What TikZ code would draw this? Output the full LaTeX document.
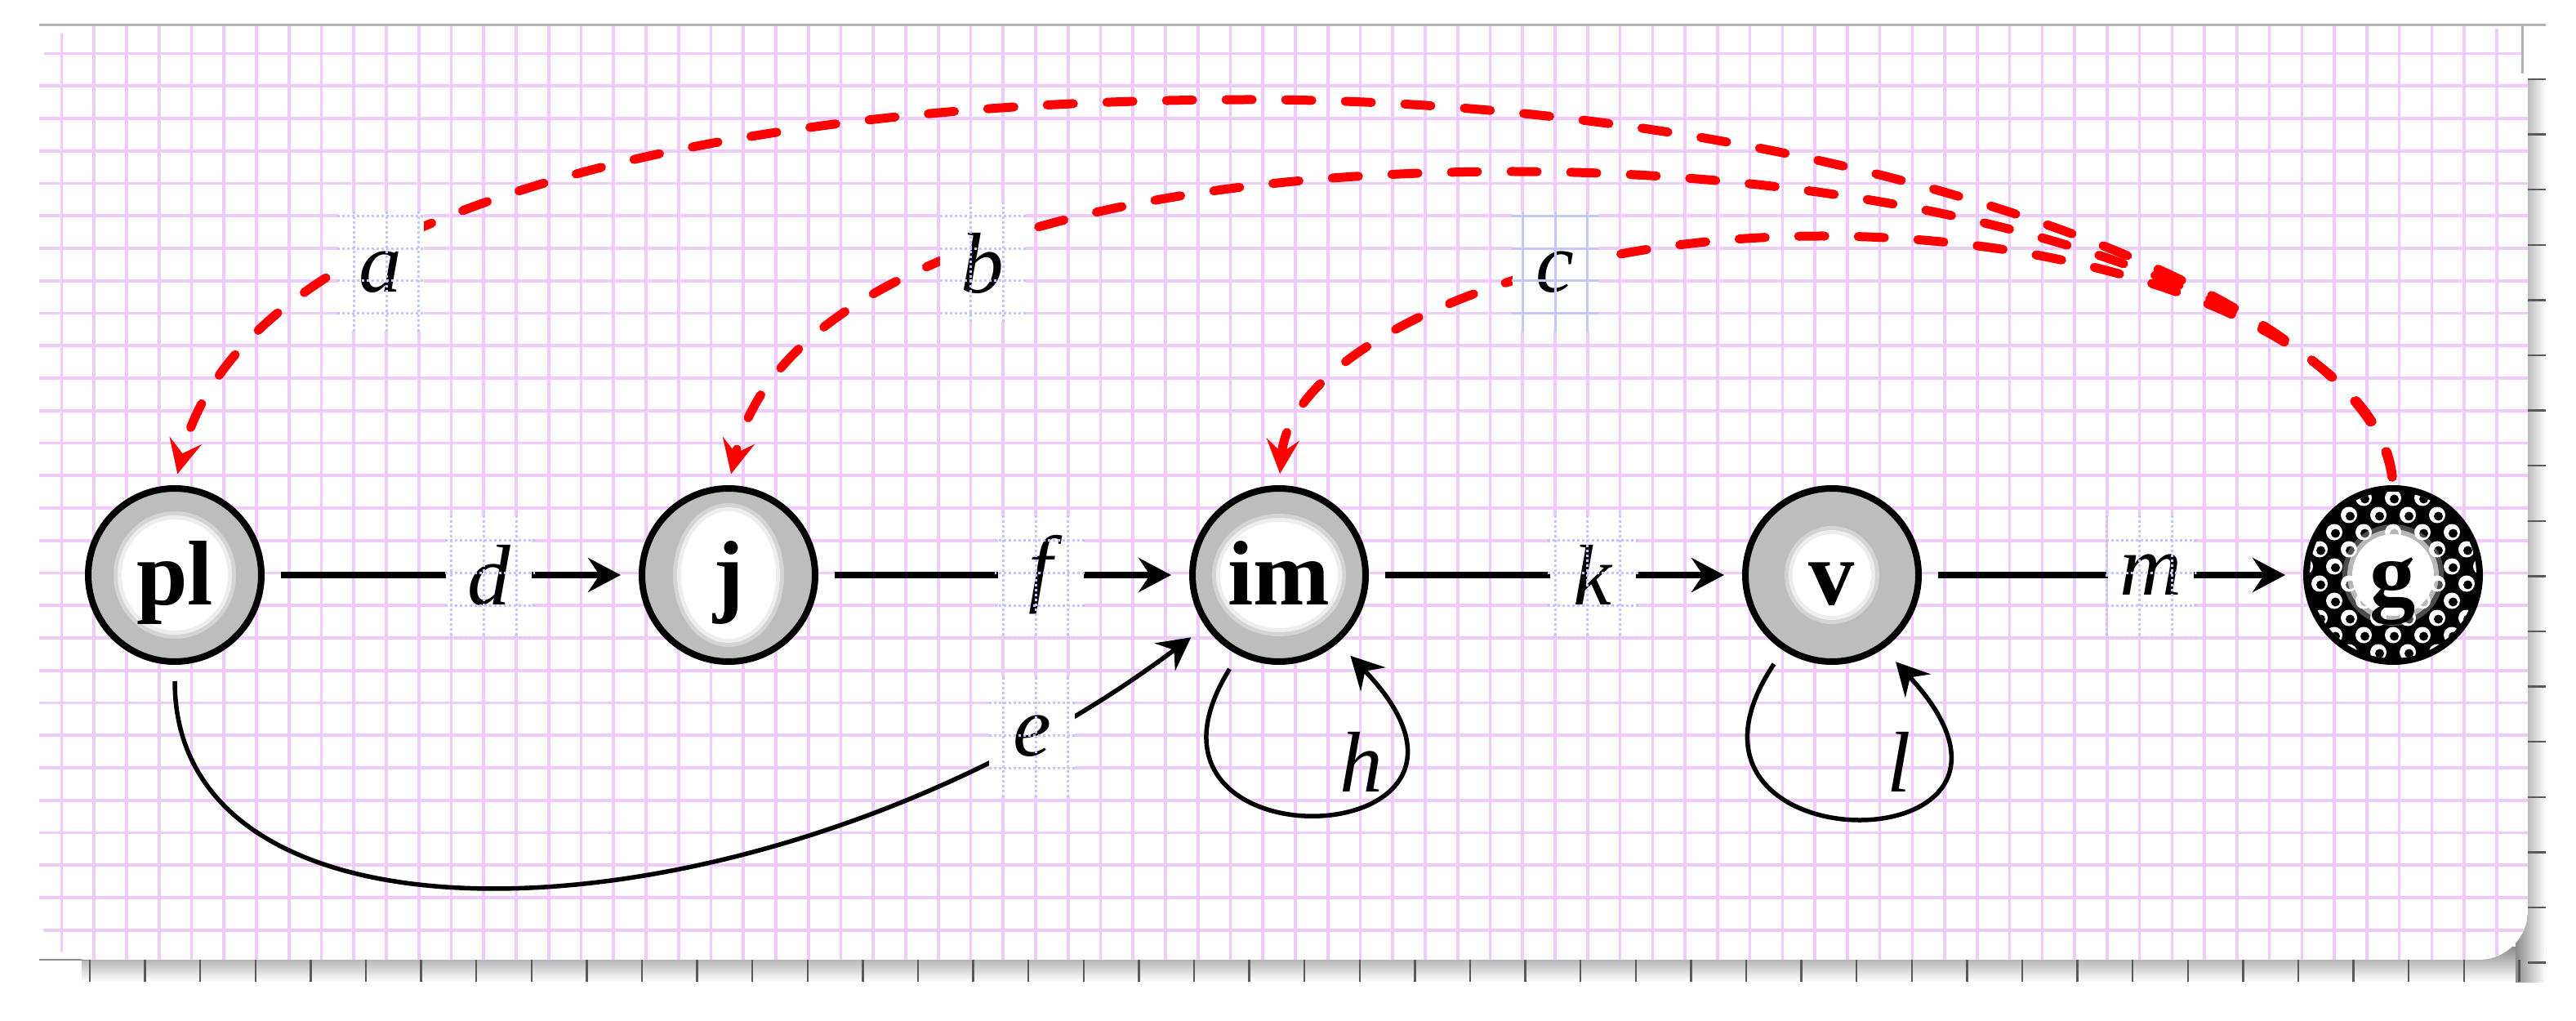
\documentclass[tikz,border=0pt]{standalone}
\usepackage{fontspec}
\setmainfont{Liberation Serif}
\usetikzlibrary{arrows.meta}
\definecolor{ringgray}{gray}{0.74}
\definecolor{gridpink}{RGB}{241,202,252}
\definecolor{gridblue}{RGB}{196,196,255}
\definecolor{rulergray}{gray}{0.55}
\newcommand{\statefont}{\fontsize{32}{36}\selectfont\bfseries}
\newcommand{\lblfont}{\fontsize{30}{34}\selectfont\itshape}
\newcommand{\papergrid}[1]{\begin{scope}[shift={(go)}]
  \foreach \k in {0,...,76} \draw[#1] ({\k*0.3975},0.4) -- ++(0,-11.6);
  \foreach \k in {0,...,27} \draw[#1] (-0.4,{-\k*0.3975}) -- ++(31,0);
  \end{scope}}
\tikzset{
  pinkline/.style={gridpink, line width=0.036cm},
  dotline/.style={gridblue, line width=0.03cm, dash pattern=on 0.025cm off 0.035cm},
  blueline/.style={gridblue, line width=0.03cm},
  state/.style={circle, draw, line width=0.08cm, fill=ringgray, minimum size=2.12cm, inner sep=0pt},
  statetext/.style={font=\statefont, text height=0.8cm, text depth=0.08cm, inner sep=0pt},
  lbl/.style={fill=white, minimum width=1.05cm, minimum height=1.45cm, inner sep=0pt, font=\lblfont},
  link/.style={line width=0.075cm, shorten <=0.2cm, shorten >=0.22cm, -{Stealth[length=0.4cm, width=0.42cm, inset=0.14cm]}},
  curvelink/.style={link, line width=0.055cm},
  redarc/.style={red, line width=0.11cm, line cap=round, dash pattern=on 0.32cm off 0.41cm,
    shorten <=0.1cm, shorten >=0.14cm, -{Stealth[length=0.42cm, width=0.4cm, inset=0.16cm]}}
}
\begin{document}
\begin{tikzpicture}
\useasboundingbox (0,0) rectangle (31.54,12.49);
\fill[white] (0,0) rectangle (31.54,12.49);
\coordinate (go) at (0.755,11.835);
\shade[top color=rulergray, bottom color=white] (1.0,0.47) rectangle (31.17,0.9);
\shade[left color=rulergray, right color=white] (30.8,0.47) rectangle (31.17,11.52);
\draw[rulergray, line width=0.02cm] (0.48,0.74) -- (1.1,0.74);
\begin{scope}
\clip[rounded corners=0.6cm] (0.48,0.74) rectangle (30.95,12.18);
\fill[white] (0.48,0.74) rectangle (30.95,12.18);
\papergrid{pinkline}
\end{scope}
\draw[gray!60, line width=0.03cm] (0.48,12.18) -- (31.17,12.18);
\draw[gray!60, line width=0.03cm] (30.88,12.18) -- (30.88,11.59);
\foreach \k in {0,...,44} \draw[gray!70!black, line width=0.025cm] ({1.10+0.676*\k},0.74) -- ++(0,-0.27);
\foreach \k in {0,...,16} \draw[gray!70!black, line width=0.025cm] (30.95,{11.52-0.676*\k}) -- ++(0.22,0);

\node[state] (pl) at (2.14,5.45) {};
\node[state] (j) at (8.92,5.45) {};
\node[state] (im) at (15.66,5.45) {};
\node[state] (v) at (22.43,5.45) {};
\node[state, fill=black] (g) at (29.30,5.45) {};
\foreach \n/\rx/\ry in {pl/0.75/0.78, j/0.68/0.88, im/0.82/0.75, v/0.58/0.60} {
  \fill[white, opacity=0.35] (\n) ellipse [x radius=\rx, y radius=\ry];
  \fill[white, opacity=0.6] (\n) ellipse [x radius={\rx-0.05}, y radius={\ry-0.05}];
  \fill[white] (\n) ellipse [x radius={\rx-0.1}, y radius={\ry-0.1}];}
\begin{scope}[shift={(g.center)}]
\clip (0,0) circle (1.02);
\foreach \i in {-4,...,4} \foreach \j in {0,...,11} {
  \fill[white] ({\i*0.36+mod(\j,2)*0.18},{(\j-5.5)*0.21}) circle (0.1);
  \fill[black] ({\i*0.36+mod(\j,2)*0.18+0.015},{(\j-5.5)*0.21-0.015}) circle (0.055);}
\foreach \r/\o in {0.62/0.3,0.56/0.6,0.5/1} \fill[white, opacity=\o] (0,0) circle (\r);
\end{scope}
\node[statetext] (plt) at (pl) {pl};
\node[statetext] (jt) at (j) {j};
\node[statetext] (imt) at (im) {im};
\node[statetext] (vt) at (v) {v};
\node[statetext] (gt) at (g) {g};

\coordinate (pka) at (15.3,11.27);
\coordinate (pkb) at (18.5,10.39);
\coordinate (pkc) at (22.3,9.6);
\draw[redarc] (g.north) .. controls +(-0.3,2.34) and +(7.2,0) .. (pka) .. controls +(-7.26,0) and +(0.76,3.14) .. (pl.north);
\draw[redarc] (g.north) .. controls +(-0.25,2.04) and +(5.96,0) .. (pkb) .. controls +(-5.29,0) and +(0.58,2.54) .. (j.north);
\draw[redarc] (g.north) .. controls +(-0.15,1.64) and +(3.86,0) .. (pkc) .. controls +(-3.67,0) and +(0.14,1.64) .. (im.north);

\draw[link] (pl) -- node[lbl, pos=0.6] (ld) {d} (j);
\draw[link] (j) -- node[lbl, pos=0.6] (lf) {f} (im);
\draw[link] (im) -- node[lbl, pos=0.6] (lk) {k} (v);
\draw[link] (v) -- node[lbl, pos=0.6] (lm) {m} (g);
\draw[curvelink] (pl.south) .. controls +(0,-3.85) and +(-5.2,-3.9) .. node[lbl, pos=0.87] (le) {e} (im.215);
\draw[curvelink] (im.243) .. controls +(-1.66,-2.67) and +(2.52,-2.62) .. (im.311);
\draw[curvelink] (v.237) .. controls +(-1.8,-2.7) and +(2.5,-2.7) .. (v.305);

\node[font=\lblfont] (lh) at (16.67,3.16) {h};
\node[font=\lblfont] (ll) at (23.25,3.16) {l};
\node[lbl] (la) at (4.66,9.16) {a};
\node[lbl] (lb) at (12.03,9.27) {b};
\node[lbl] (lc) at (19.04,9.16) {c};
\foreach \n in {la,lb,ld,lf,lk,lm,le} {
  \begin{scope}
  \clip (\n.south west) rectangle (\n.north east);
  \papergrid{dotline}
  \end{scope}}
\begin{scope}
\clip (lc.south west) rectangle (lc.north east);
\papergrid{blueline}
\end{scope}
\end{tikzpicture}
\end{document}
